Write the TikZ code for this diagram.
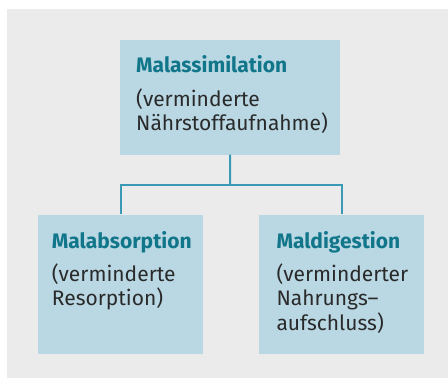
\documentclass[tikz,border=0pt]{standalone}
\usepackage{fontspec}
\setmainfont{Fira Sans}
\definecolor{bggray}{HTML}{EBEBEB}
\definecolor{boxblue}{HTML}{B9D8E4}
\definecolor{linec}{HTML}{3A9AB5}
\definecolor{titlec}{HTML}{12768A}
\definecolor{bodyc}{HTML}{2A2A2A}
\begin{document}
\begin{tikzpicture}[x=1pt,y=-1pt,
  box/.style={fill=boxblue,draw=none,inner sep=0pt,anchor=north west},
  ttl/.style={anchor=base west,inner sep=0pt,text=titlec,font=\fontsize{21}{24}\selectfont\bfseries},
  bdy/.style={anchor=base west,inner sep=0pt,text=bodyc,font=\fontsize{21}{24}\selectfont},
  conn/.style={draw=linec,line width=2pt}]
\useasboundingbox (0,0) rectangle (448,378);
\fill[bggray] (7,9) rectangle (448,378);
% boxes
\node[box,minimum width=220pt,minimum height=115pt] (top) at (120,39.3) {};
\node[box,minimum width=164.7pt,minimum height=139.7pt] (left) at (38,214.3) {};
\node[box,minimum width=164.7pt,minimum height=139.7pt] (right) at (259,214.3) {};
% connectors
\coordinate (j) at (230,185);
\draw[conn] (top.south) -- (j);
\draw[conn] (left.north) |- (j) -| (right.north);
% texts
\node[ttl] (t0) at (136,72.7) {Malassimilation};
\node[bdy] (t1) at (136,106) {(verminderte};
\node[bdy] (t2) at (136,130.7) {Nährstoffaufnahme)};
\node[ttl] (l0) at (51.7,248.3) {Malabsorption};
\node[bdy] (l1) at (51.7,281) {(verminderte};
\node[bdy] (l2) at (51.7,305.7) {Resorption)};
\node[ttl] (r0) at (276.3,248.3) {Maldigestion};
\node[bdy] (r1) at (276.3,281) {(verminderter};
\node[bdy] (r2) at (276.3,305.7) {Nahrungs{\char"2013}};
\node[bdy] (r3) at (276.3,330.4) {aufschluss)};
\end{tikzpicture}
\end{document}
